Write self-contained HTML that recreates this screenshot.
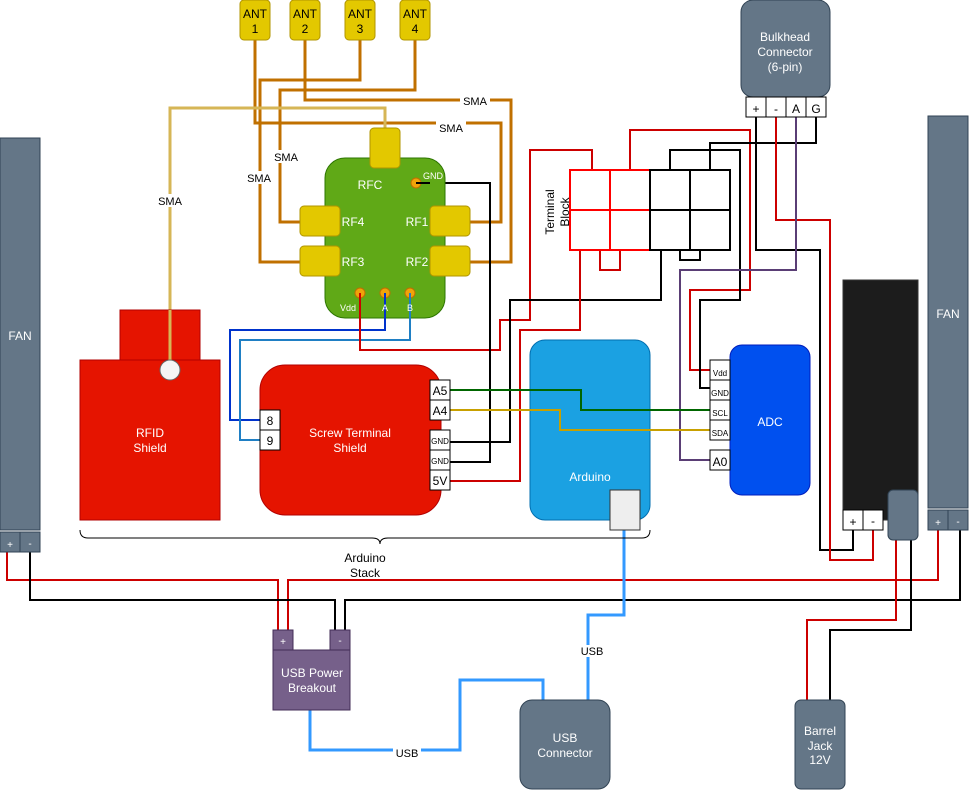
<!DOCTYPE html>
<html><head><style>body{margin:0;background:#fff}svg{display:block}text{font-family:"Liberation Sans",sans-serif}</style></head><body>
<svg width="969" height="790" viewBox="0 0 969 790" xmlns="http://www.w3.org/2000/svg">
<g fill="none" stroke-width="2">
<g stroke="#c07000" stroke-width="3">
<polyline points="255,40 255,123 501,123 501,222 470,222"/>
<polyline points="305,40 305,100 511,100 511,262 470,262"/>
<polyline points="360,40 360,80 260,80 260,262 300,262"/>
<polyline points="415,40 415,90 280,90 280,222 300,222"/>
</g>
<polyline stroke="#d6b656" stroke-width="3" points="385,128 385,108 170,108 170,362"/>
<polyline stroke="#0033cc" points="385,293 385,330 230,330 230,420 260,420"/>
<polyline stroke="#1f7fc4" points="410,293 410,340 240,340 240,440 260,440"/>
<polyline stroke="#cc0000" points="360,293 360,350 500,350 500,320 530,320 530,150 592,150 592,170"/>
<polyline stroke="#000" points="416,183 490,183 490,462 450,462"/>
<polyline stroke="#000" points="450,442 510,442 510,300 661,300 661,250"/>
<polyline stroke="#cc0000" points="450,481 520,481 520,330 580,330 580,250"/>
<polyline stroke="#cc0000" points="630,170 630,130 750,130 750,290 690,290 690,370 710,370"/>
<polyline stroke="#000" points="670,170 670,150 740,150 740,300 700,300 700,388 710,388"/>
<polyline stroke="#000" points="710,170 710,143 816,143 816,117"/>
<polyline stroke="#000" points="756,117 756,250 820,250 820,550 853,550 853,530"/>
<polyline stroke="#cc0000" points="776,117 776,220 830,220 830,560 873,560 873,530"/>
<polyline stroke="#5a3e75" points="796,117 796,270 680,270 680,460 710,460"/>
<polyline stroke="#cc0000" points="7,552 7,580 278,580 278,630"/>
<polyline stroke="#cc0000" points="288,630 288,580 938,580 938,530"/>
<polyline stroke="#000" points="30,552 30,600 335,600 335,630"/>
<polyline stroke="#000" points="345,630 345,600 960,600 960,530"/>
<polyline stroke="#cc0000" points="896,540 896,620 807,620 807,700"/>
<polyline stroke="#000" points="911,540 911,630 830,630 830,700"/>
<polyline stroke="#3399ff" stroke-width="3" points="310,710 310,750 460,750 460,680 543,680 543,700"/>
<polyline stroke="#3399ff" stroke-width="3" points="624,530 624,615 588,615 588,700"/>
<path stroke="#000" stroke-width="1" d="M80,530 q0,8 8,8 L372,538 q8,0 8,6 q0,-6 8,-6 L642,538 q8,0 8,-8"/>
</g>
<g fill="#e3c800" stroke="#b09500">
<rect x="240" y="0" width="30" height="40" rx="4"/><rect x="290" y="0" width="30" height="40" rx="4"/>
<rect x="345" y="0" width="30" height="40" rx="4"/><rect x="400" y="0" width="30" height="40" rx="4"/>
</g>
<g font-size="12" text-anchor="middle" fill="#000">
<text x="255" y="18">ANT</text><text x="255" y="33">1</text>
<text x="305" y="18">ANT</text><text x="305" y="33">2</text>
<text x="360" y="18">ANT</text><text x="360" y="33">3</text>
<text x="415" y="18">ANT</text><text x="415" y="33">4</text>
</g>
<g font-size="11" text-anchor="middle" fill="#000">
<rect x="460" y="94" width="30" height="13" fill="#fff"/><text x="475" y="105">SMA</text>
<rect x="436" y="121" width="30" height="13" fill="#fff"/><text x="451" y="132">SMA</text>
<rect x="271" y="150" width="30" height="13" fill="#fff"/><text x="286" y="161">SMA</text>
<rect x="244" y="171" width="30" height="13" fill="#fff"/><text x="259" y="182">SMA</text>
<rect x="155" y="194" width="30" height="13" fill="#fff"/><text x="170" y="205">SMA</text>
</g>
<rect x="325" y="158" width="120" height="160" rx="20" fill="#60a917" stroke="#2d7600"/>
<g fill="#e3c800" stroke="#b09500">
<rect x="370" y="128" width="30" height="40" rx="4"/>
<rect x="300" y="206" width="40" height="30" rx="4"/><rect x="300" y="246" width="40" height="30" rx="4"/>
<rect x="430" y="206" width="40" height="30" rx="4"/><rect x="430" y="246" width="40" height="30" rx="4"/>
</g>
<g fill="#f0a30a" stroke="#bd7000"><circle cx="416" cy="183" r="5"/><circle cx="360" cy="293" r="5"/><circle cx="385" cy="293" r="5"/><circle cx="410" cy="293" r="5"/></g>
<g stroke-width="2"><line x1="416" y1="183" x2="430" y2="183" stroke="#000"/>
<line x1="385" y1="293" x2="385" y2="320" stroke="#0033cc"/>
<line x1="410" y1="293" x2="410" y2="320" stroke="#1f7fc4"/>
<line x1="360" y1="293" x2="360" y2="320" stroke="#cc0000"/></g>
<g fill="#fff" font-size="12" text-anchor="middle">
<text x="370" y="189">RFC</text><text x="353" y="226">RF4</text><text x="353" y="266">RF3</text>
<text x="417" y="226">RF1</text><text x="417" y="266">RF2</text>
<text x="433" y="179" font-size="9">GND</text>
<text x="348" y="311" font-size="9">Vdd</text><text x="385" y="311" font-size="9">A</text><text x="410" y="311" font-size="9">B</text>
</g>
<rect x="120" y="310" width="80" height="50" fill="#e51400" stroke="#b20000"/>
<rect x="80" y="360" width="140" height="160" fill="#e51400" stroke="#b20000"/>
<line x1="170" y1="310" x2="170" y2="362" stroke="#d6b656" stroke-width="3"/>
<circle cx="170" cy="370" r="10" fill="#f5f5f5" stroke="#666"/>
<text x="150" y="437" fill="#fff" font-size="12" text-anchor="middle">RFID</text>
<text x="150" y="452" fill="#fff" font-size="12" text-anchor="middle">Shield</text>
<rect x="260" y="365" width="181" height="150" rx="25" fill="#e51400" stroke="#b20000"/>
<text x="350" y="437" fill="#fff" font-size="12" text-anchor="middle">Screw Terminal</text>
<text x="350" y="452" fill="#fff" font-size="12" text-anchor="middle">Shield</text>
<rect x="530" y="340" width="120" height="180" rx="15" fill="#1ba1e2" stroke="#006eaf"/>
<text x="590" y="481" fill="#fff" font-size="12" text-anchor="middle">Arduino</text>
<rect x="610" y="490" width="30" height="40" fill="#eeeeee" stroke="#333"/>
<g fill="none" stroke-width="2">
<polyline stroke="#006600" points="450,390 581,390 581,410 710,410"/>
<polyline stroke="#c8a000" points="450,410 560,410 560,430 710,430"/>
</g>
<g fill="#fff" stroke="#000">
<rect x="260" y="410" width="20" height="20"/><rect x="260" y="430" width="20" height="20"/>
<rect x="430" y="380" width="20" height="20"/><rect x="430" y="400" width="20" height="20"/>
<rect x="430" y="430" width="20" height="20"/><rect x="430" y="450" width="20" height="20"/><rect x="430" y="470" width="20" height="20"/>
</g>
<g font-size="12" text-anchor="middle" fill="#000">
<text x="270" y="425">8</text><text x="270" y="445">9</text>
<text x="440" y="395">A5</text><text x="440" y="415">A4</text><text x="440" y="485">5V</text>
<text x="440" y="444" font-size="8">GND</text><text x="440" y="464" font-size="8">GND</text>
</g>
<text x="365" y="562" font-size="12" text-anchor="middle">Arduino</text>
<text x="365" y="577" font-size="12" text-anchor="middle">Stack</text>
<g fill="none" stroke-width="2">
<rect x="600" y="250" width="20" height="20" stroke="#cc0000"/>
<rect x="680" y="250" width="20" height="10" stroke="#000"/>
<g stroke="#ff0000"><rect x="570" y="170" width="80" height="80" fill="#fff"/><line x1="610" y1="170" x2="610" y2="250"/><line x1="570" y1="210" x2="650" y2="210"/></g>
<g stroke="#000"><rect x="650" y="170" width="80" height="80" fill="#fff"/><line x1="690" y1="170" x2="690" y2="250"/><line x1="650" y1="210" x2="730" y2="210"/></g>
<line x1="650" y1="170" x2="650" y2="250" stroke="#000"/>
</g>
<text transform="translate(554,212) rotate(-90)" font-size="12" text-anchor="middle">Terminal</text>
<text transform="translate(569,212) rotate(-90)" font-size="12" text-anchor="middle">Block</text>
<rect x="730" y="345" width="80" height="150" rx="12" fill="#0050ef" stroke="#001dbc"/>
<text x="770" y="426" fill="#fff" font-size="12" text-anchor="middle">ADC</text>
<g fill="#fff" stroke="#000">
<rect x="710" y="360" width="20" height="20"/><rect x="710" y="380" width="20" height="20"/>
<rect x="710" y="400" width="20" height="20"/><rect x="710" y="420" width="20" height="20"/><rect x="710" y="450" width="20" height="20"/>
</g>
<g font-size="8" text-anchor="middle"><text x="720" y="376">Vdd</text><text x="720" y="396">GND</text><text x="720" y="416">SCL</text><text x="720" y="436">SDA</text><text x="720" y="466" font-size="12">A0</text></g>
<rect x="741" y="0" width="89" height="97" rx="12" fill="#647687" stroke="#314354"/>
<g fill="#fff" font-size="12" text-anchor="middle"><text x="785" y="41">Bulkhead</text><text x="785" y="56">Connector</text><text x="785" y="71">(6-pin)</text></g>
<g fill="#fff" stroke="#000"><rect x="746" y="97" width="20" height="20"/><rect x="766" y="97" width="20" height="20"/><rect x="786" y="97" width="20" height="20"/><rect x="806" y="97" width="20" height="20"/></g>
<g font-size="12" text-anchor="middle"><text x="756" y="113">+</text><text x="776" y="113">-</text><text x="796" y="113">A</text><text x="816" y="113">G</text></g>
<rect x="843" y="280" width="75" height="240" fill="#1c1c1c" stroke="#333"/>
<g fill="#fff" stroke="#000"><rect x="843" y="510" width="20" height="20"/><rect x="863" y="510" width="20" height="20"/></g>
<text x="853" y="526" font-size="12" text-anchor="middle">+</text><text x="873" y="525" font-size="12" text-anchor="middle">-</text>
<rect x="888" y="490" width="30" height="50" rx="5" fill="#647687" stroke="#314354"/>
<rect x="0" y="138" width="40" height="392" fill="#647687" stroke="#314354"/>
<rect x="0" y="532" width="20" height="20" fill="#647687" stroke="#314354"/><rect x="20" y="532" width="20" height="20" fill="#647687" stroke="#314354"/>
<rect x="928" y="116" width="40" height="392" fill="#647687" stroke="#314354"/>
<rect x="928" y="510" width="20" height="20" fill="#647687" stroke="#314354"/><rect x="948" y="510" width="20" height="20" fill="#647687" stroke="#314354"/>
<g fill="#fff" font-size="12" text-anchor="middle">
<text x="20" y="340">FAN</text><text x="948" y="318">FAN</text>
<text x="10" y="548" font-size="10">+</text><text x="30" y="547" font-size="10">-</text>
<text x="938" y="526" font-size="10">+</text><text x="958" y="525" font-size="10">-</text>
</g>
<rect x="273" y="650" width="77" height="60" fill="#76608a" stroke="#432d57"/>
<rect x="273" y="630" width="20" height="20" fill="#76608a" stroke="#432d57"/>
<rect x="330" y="630" width="20" height="20" fill="#76608a" stroke="#432d57"/>
<g fill="#fff" text-anchor="middle"><text x="283" y="645" font-size="10">+</text><text x="340" y="644" font-size="10">-</text>
<text x="312" y="677" font-size="12">USB Power</text><text x="312" y="692" font-size="12">Breakout</text></g>
<rect x="520" y="700" width="90" height="89" rx="12" fill="#647687" stroke="#314354"/>
<g fill="#fff" font-size="12" text-anchor="middle"><text x="565" y="742">USB</text><text x="565" y="757">Connector</text></g>
<rect x="795" y="700" width="50" height="89" rx="6" fill="#647687" stroke="#314354"/>
<g fill="#fff" font-size="12" text-anchor="middle"><text x="820" y="735">Barrel</text><text x="820" y="750">Jack</text><text x="820" y="764">12V</text></g>
<g font-size="11" text-anchor="middle">
<rect x="393" y="746" width="28" height="12" fill="#fff"/><text x="407" y="757">USB</text>
<rect x="578" y="645" width="28" height="12" fill="#fff"/><text x="592" y="655">USB</text>
</g>
</svg>
</body></html>
